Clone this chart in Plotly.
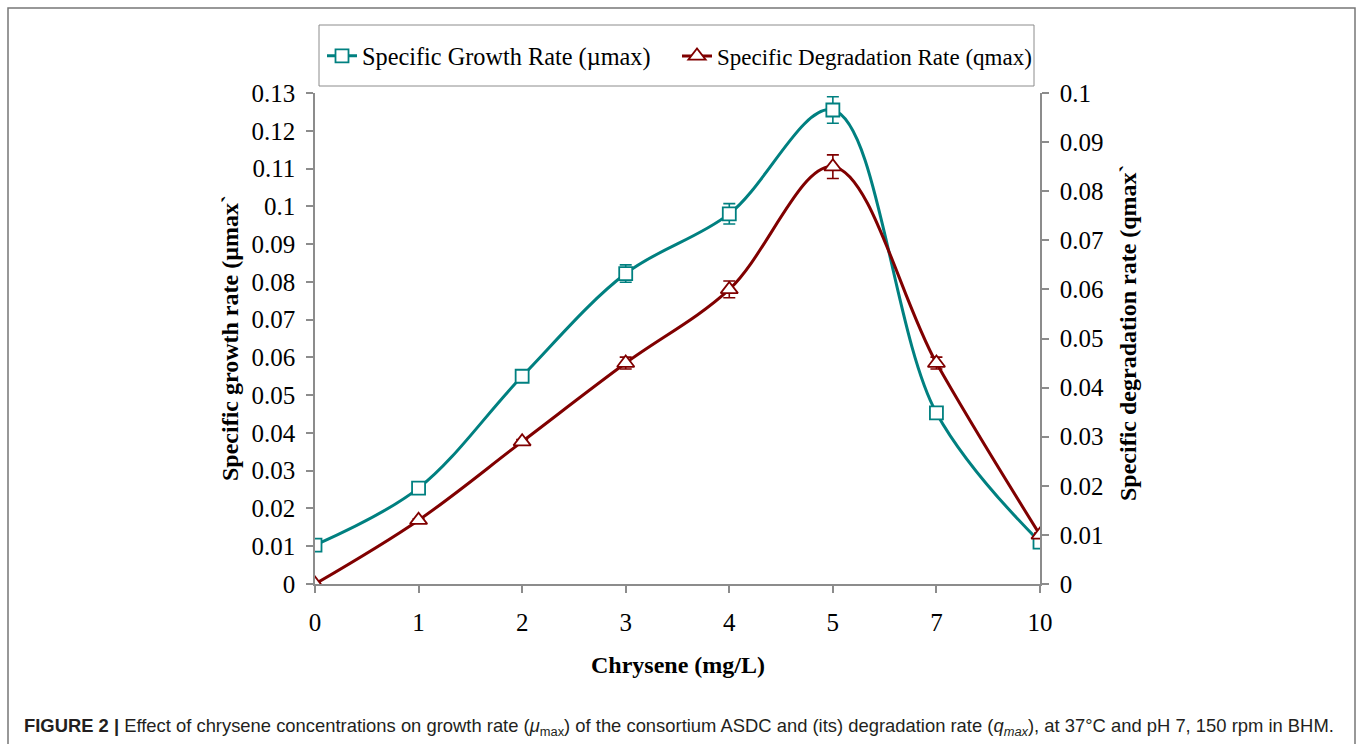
import plotly.graph_objects as go

# Chrysene concentration (mg/L), plotted as evenly spaced categories
chrysene = ["0", "1", "2", "3", "4", "5", "7", "10"]

# Specific growth rate (µmax) and its error
growth_rate = [0.0103, 0.0254, 0.0550, 0.0822, 0.0980, 0.1255, 0.0453, 0.0111]
growth_err = [0.0003, 0.0004, 0.0005, 0.0023, 0.0027, 0.0035, 0.0004, 0.0004]

# Specific degradation rate (qmax) and its error
degr_rate = [0.0000, 0.0130, 0.0290, 0.0450, 0.0600, 0.0850, 0.0450, 0.0100]
degr_err = [0.0002, 0.0003, 0.0004, 0.0012, 0.0017, 0.0024, 0.0012, 0.0004]

left_ticks = [round(i * 0.01, 2) for i in range(14)]
left_labels = ["0", "0.01", "0.02", "0.03", "0.04", "0.05", "0.06", "0.07",
               "0.08", "0.09", "0.1", "0.11", "0.12", "0.13"]
right_ticks = [round(i * 0.01, 2) for i in range(11)]
right_labels = ["0", "0.01", "0.02", "0.03", "0.04", "0.05", "0.06", "0.07",
                "0.08", "0.09", "0.1"]

TEAL = "#008080"
MAROON = "#800000"
AXIS = "#8c8c8c"
SERIF = "Liberation Serif, Times New Roman, serif"
TICK_SIZE = 25

# plot-area pixel geometry used for paper coordinates of decorations
L, R, T, B = 315, 1040, 93, 584
W, H = 1357, 744


def px_x(px):
    return (px - L) / (R - L)


def px_y(py):
    return (B - py) / (B - T)


fig = go.Figure()

fig.add_trace(go.Scatter(
    x=chrysene, y=growth_rate, name="Specific Growth Rate (µmax)",
    mode="lines+markers",
    line=dict(color=TEAL, width=3, shape="spline", smoothing=1.0),
    marker=dict(symbol="square", size=13, color="white",
                line=dict(color=TEAL, width=1.8)),
    error_y=dict(type="data", array=growth_err, visible=True,
                 color=TEAL, thickness=1.6, width=6),
    yaxis="y", legend="legend",
))

fig.add_trace(go.Scatter(
    x=chrysene, y=degr_rate, name="Specific Degradation Rate (qmax)",
    mode="lines+markers",
    line=dict(color=MAROON, width=3, shape="spline", smoothing=1.0),
    marker=dict(symbol="triangle-up", size=15, color="white",
                line=dict(color=MAROON, width=1.8)),
    error_y=dict(type="data", array=degr_err, visible=True,
                 color=MAROON, thickness=1.6, width=6),
    yaxis="y2", legend="legend2",
))

axis_common = dict(
    showline=True, linecolor=AXIS, linewidth=1.5,
    ticks="outside", ticklen=7, tickcolor=AXIS, tickwidth=1.5,
    showgrid=False, zeroline=False,
    tickfont=dict(family=SERIF, size=TICK_SIZE, color="black"),
)

legend_common = dict(
    orientation="h", xanchor="left", yanchor="middle", y=px_y(56),
    borderwidth=0, bgcolor="rgba(0,0,0,0)",
    itemwidth=30,
)

fig.update_layout(
    width=W, height=H,
    margin=dict(l=L, r=W - R, t=T, b=H - B),
    paper_bgcolor="white", plot_bgcolor="white",
    font=dict(family=SERIF, size=TICK_SIZE, color="black"),
    showlegend=True,
    legend=dict(x=px_x(322), font=dict(family=SERIF, size=24.3, color="black"),
                **legend_common),
    legend2=dict(x=px_x(677), font=dict(family=SERIF, size=23, color="black"),
                 **legend_common),
    xaxis=dict(type="category", range=[0, len(chrysene) - 1],
               ticklabelstandoff=8, **axis_common),
    yaxis=dict(range=[0, 0.13], tickvals=left_ticks, ticktext=left_labels,
               ticklabelstandoff=6, **axis_common),
    yaxis2=dict(range=[0, 0.1], tickvals=right_ticks, ticktext=right_labels,
                overlaying="y", side="right", ticklabelstandoff=6, **axis_common),
)

# outer figure frame
fig.add_shape(type="rect", xref="paper", yref="paper",
              x0=px_x(8), x1=px_x(1355), y0=px_y(760), y1=px_y(8),
              line=dict(color="#777777", width=1.5), layer="below")

# legend box
fig.add_shape(type="rect", xref="paper", yref="paper",
              x0=px_x(319), x1=px_x(1034), y0=px_y(86), y1=px_y(25),
              line=dict(color=AXIS, width=1), fillcolor="white", layer="below")

# axis titles
fig.add_annotation(text="<b>Specific growth rate (µmax`</b>",
                   xref="paper", yref="paper", x=px_x(230), y=px_y(338),
                   xanchor="center", yanchor="middle",
                   textangle=-90, showarrow=False,
                   font=dict(family=SERIF, size=24, color="black"))
fig.add_annotation(text="<b>Specific degradation rate (qmax`</b>",
                   xref="paper", yref="paper", x=px_x(1128), y=px_y(333),
                   xanchor="center", yanchor="middle",
                   textangle=-90, showarrow=False,
                   font=dict(family=SERIF, size=24, color="black"))
fig.add_annotation(text="<b>Chrysene (mg/L)</b>",
                   xref="paper", yref="paper", x=px_x(678), y=px_y(665),
                   xanchor="center", yanchor="middle",
                   showarrow=False,
                   font=dict(family=SERIF, size=24, color="black"))

# figure caption
fig.add_annotation(
    text=("<b>FIGURE 2 |</b> Effect of chrysene concentrations on growth rate "
          "(<i>μ</i><sub>max</sub>) of the consortium ASDC and (its) degradation "
          "rate (<i>q<sub>max</sub></i>), at 37°C and pH 7, 150 rpm in BHM."),
    xref="paper", yref="paper", x=px_x(22), y=px_y(727),
    xanchor="left", yanchor="middle", showarrow=False,
    font=dict(family="Liberation Sans, Arial, sans-serif", size=18.4, color="#231f20"),
)

fig.write_html("out.html")
